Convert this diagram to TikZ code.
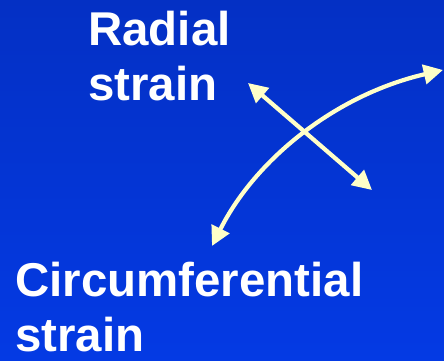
\documentclass[tikz,border=0pt]{standalone}
\usepackage{fontspec}
\setmainfont{Liberation Sans}
\usepackage{tikz}
\usetikzlibrary{arrows.meta}
\definecolor{slidetop}{RGB}{4,48,196}
\definecolor{slidebot}{RGB}{4,58,228}
\definecolor{paleyellow}{RGB}{255,255,200}

\begin{document}
\begin{tikzpicture}[
x=0.02cm, y=-0.02cm,
label/.style={anchor=north west, inner sep=0pt, align=left, text=white, font=\fontsize{27}{31.2}\selectfont\bfseries},
arrow/.style={{Triangle[length=11pt, width=11pt]}-{Triangle[length=11pt, width=11pt]}, line width=2.4pt, paleyellow}
]
\shade[top color=slidetop, bottom color=slidebot] (0,0) rectangle (444,361);
\useasboundingbox (0,0) rectangle (444,361);
\node[label] (radial) at (88,11) {Radial\\strain};
\node[label] (circ) at (15,262) {Circumferential\\strain};
\coordinate (radA) at (248,83);
\coordinate (radB) at (372,190);
\coordinate (circA) at (212,246);
\coordinate (circB) at (443,70);
\draw[arrow] (radA) -- (radB);
\draw[arrow] (circA) .. controls (255,160) and (335,95) .. (circB);
\end{tikzpicture}
\end{document}
